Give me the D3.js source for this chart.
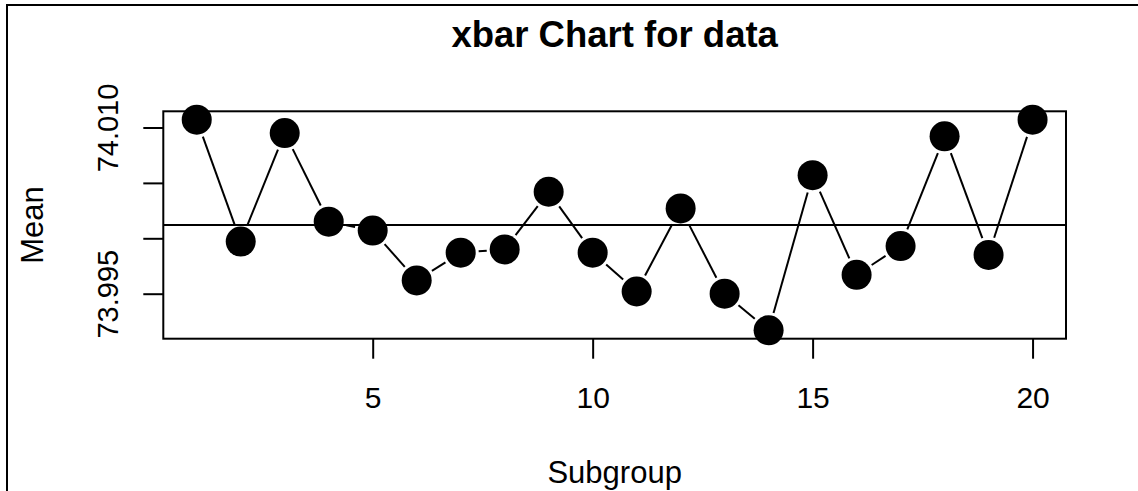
<!DOCTYPE html>
<html>
<head>
<meta charset="utf-8">
<script src="https://cdn.jsdelivr.net/npm/d3@7"></script>
<style>
  html, body { margin: 0; padding: 0; background: #fff; }
  svg { display: block; }
</style>
</head>
<body>
<svg id="svg"></svg>
<script>
// subgroup numbers and their means
const subgroups = d3.range(1, 21)
const means = [
    74.0107, 73.9997, 74.0095, 74.0015, 74.0007,
    73.9962, 73.9987, 73.9990, 74.0042, 73.9987,
    73.9952, 74.0027, 73.9950, 73.9917, 74.0057,
    73.9967, 73.9993, 74.0092, 73.9985, 74.0107
]
const center = 74.0012

const xTicks = [5, 10, 15, 20]
const yTicks = [73.995, 74.000, 74.005, 74.010]
const yTickLabels = ['73.995', '', '', '74.010']

const W = 1138, H = 491
const box = { left: 163.3, right: 1066, top: 111.3, bottom: 338.7 }
const font = 'Liberation Sans, Arial, Helvetica, sans-serif'

const svg = d3.select('#svg').attr('width', W).attr('height', H)

// R-style 4% padding on both axes
const pad = (lo, hi) => { const d = (hi - lo) * 0.04; return [lo - d, hi + d] }

const x = d3.scaleLinear()
    .domain(pad(d3.min(subgroups), d3.max(subgroups)))
    .range([box.left, box.right])

const y = d3.scaleLinear()
    .domain(pad(d3.min(means), d3.max(means)))
    .range([box.bottom, box.top])

// page frame (only top and left show)
svg.append('rect')
    .attr('x', 7).attr('y', 5)
    .attr('width', W + 20).attr('height', H + 20)
    .attr('fill', 'none').attr('stroke', '#000').attr('stroke-width', 2)

// plot box
svg.append('rect')
    .attr('x', box.left).attr('y', box.top)
    .attr('width', box.right - box.left).attr('height', box.bottom - box.top)
    .attr('fill', 'none').attr('stroke', '#000').attr('stroke-width', 2)

// x axis
const xAxis = svg.append('g')
    .attr('transform', `translate(0,${box.bottom})`)
    .call(d3.axisBottom(x).tickValues(xTicks).tickSize(20).tickFormat(d3.format('d')))
xAxis.select('.domain').remove()
xAxis.selectAll('line').attr('stroke-width', 2)
xAxis.selectAll('text')
    .attr('font-family', font).attr('font-size', 30).attr('fill', '#000')
    .attr('dy', null).attr('y', 69.5)

// y axis
const yAxis = svg.append('g')
    .attr('transform', `translate(${box.left},0)`)
    .call(d3.axisLeft(y).tickValues(yTicks).tickSize(20).tickFormat((d, i) => yTickLabels[i]))
yAxis.select('.domain').remove()
yAxis.selectAll('line').attr('stroke-width', 2)
yAxis.selectAll('text')
    .attr('font-family', font).attr('font-size', 29).attr('fill', '#000')
    .attr('text-anchor', 'middle').attr('dy', null).attr('x', null)
    .attr('transform', 'translate(-45,0) rotate(-90)')

// center line
svg.append('line')
    .attr('x1', box.left).attr('x2', box.right)
    .attr('y1', y(center)).attr('y2', y(center))
    .attr('stroke', '#000').attr('stroke-width', 2)

// type="b" connectors with gaps around the points
const gap = 18
const pts = subgroups.map((s, i) => [x(s), y(means[i])])
for (let i = 0; i < pts.length - 1; i++) {
    const [x0, y0] = pts[i], [x1, y1] = pts[i + 1]
    const len = Math.hypot(x1 - x0, y1 - y0)
    if (len <= 2 * gap) continue
    const ux = (x1 - x0) / len, uy = (y1 - y0) / len
    svg.append('line')
        .attr('x1', x0 + ux * gap).attr('y1', y0 + uy * gap)
        .attr('x2', x1 - ux * gap).attr('y2', y1 - uy * gap)
        .attr('stroke', '#000').attr('stroke-width', 2)
}

// points
svg.append('g').selectAll('circle')
    .data(means)
    .join('circle')
    .attr('cx', (d, i) => x(subgroups[i]))
    .attr('cy', d => y(d))
    .attr('r', 15)
    .attr('fill', '#000')

// titles
svg.append('text')
    .text('xbar Chart for data')
    .attr('font-family', font).attr('font-size', 36.5).attr('font-weight', 'bold')
    .attr('text-anchor', 'middle')
    .attr('x', (box.left + box.right) / 2).attr('y', 47)

svg.append('text')
    .text('Subgroup')
    .attr('font-family', font).attr('font-size', 31)
    .attr('text-anchor', 'middle')
    .attr('x', (box.left + box.right) / 2).attr('y', 483)

svg.append('text')
    .text('Mean')
    .attr('font-family', font).attr('font-size', 31)
    .attr('text-anchor', 'middle')
    .attr('transform', `translate(43,${(box.top + box.bottom) / 2}) rotate(-90)`)
</script>
</body>
</html>
